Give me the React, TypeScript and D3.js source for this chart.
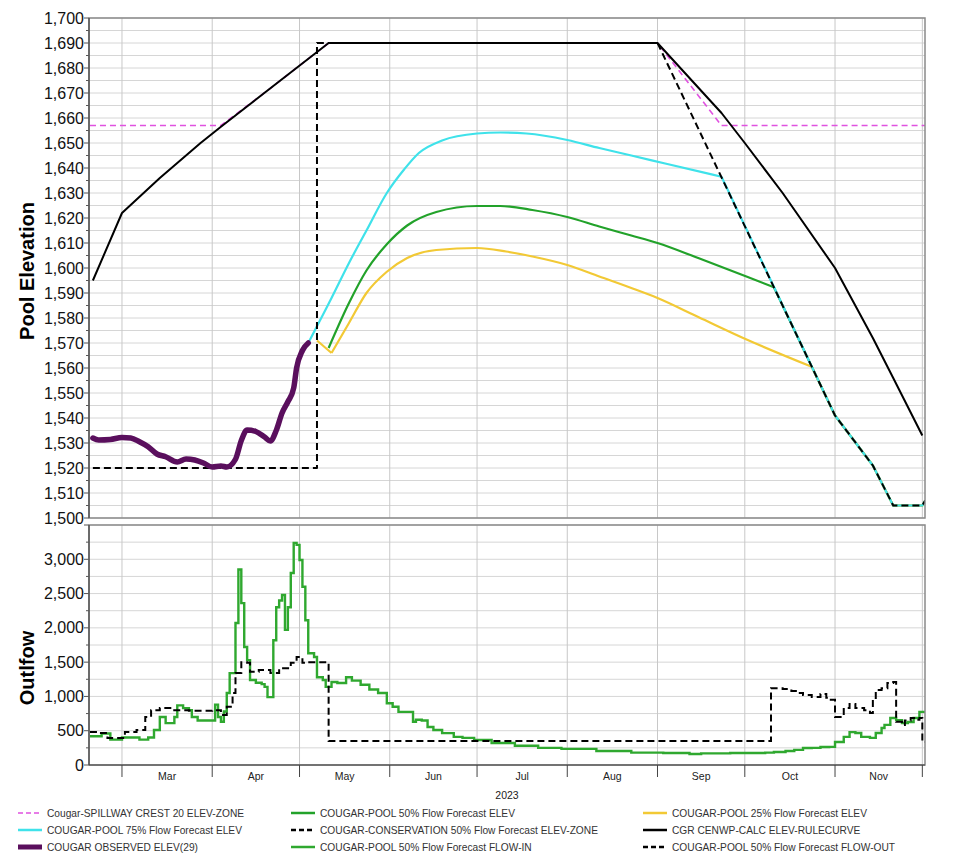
import React from 'react';
import * as d3 from 'd3';

type Pt = [string, number];
const parse = d3.timeParse('%Y-%m-%d') as (s: string) => Date;

// ---------------- DATA ----------------
const spillwayCrest: Pt[] = [
  ['2023-02-18', 1657], ['2023-04-04', 1657], ['2023-04-20', 1671], ['2023-05-11', 1690],
  ['2023-09-01', 1690], ['2023-09-23', 1657], ['2023-12-02', 1657],
];

const ruleCurve: Pt[] = [
  ['2023-02-19', 1595], ['2023-03-01', 1622], ['2023-03-14', 1636], ['2023-03-28', 1650],
  ['2023-04-04', 1656.5], ['2023-04-20', 1671], ['2023-05-11', 1690], ['2023-09-01', 1690],
  ['2023-09-23', 1662], ['2023-10-01', 1650], ['2023-10-14', 1630], ['2023-11-01', 1600],
  ['2023-11-14', 1572], ['2023-11-21', 1556], ['2023-12-01', 1533],
];

const conservation: Pt[] = [
  ['2023-02-19', 1520], ['2023-05-07', 1520], ['2023-05-07', 1690], ['2023-09-01', 1690],
  ['2023-11-01', 1541], ['2023-11-14', 1521], ['2023-11-21', 1505], ['2023-12-01', 1505],
  ['2023-12-02', 1507],
];

const pool75: Pt[] = [
  ['2023-05-04', 1570], ['2023-05-12', 1588], ['2023-05-18', 1602], ['2023-05-24', 1615],
  ['2023-05-31', 1630], ['2023-06-06', 1639.5], ['2023-06-11', 1646], ['2023-06-19', 1651],
  ['2023-07-01', 1653.8], ['2023-07-09', 1654.2], ['2023-07-18', 1653.8], ['2023-08-01', 1651.2],
  ['2023-08-12', 1648], ['2023-08-23', 1645], ['2023-09-04', 1641.7], ['2023-09-23', 1636.5],
];

const pool50: Pt[] = [
  ['2023-05-11', 1568], ['2023-05-18', 1586], ['2023-05-24', 1599], ['2023-05-31', 1609.5],
  ['2023-06-07', 1617], ['2023-06-17', 1622.4], ['2023-07-01', 1624.8], ['2023-07-09', 1624.8],
  ['2023-07-20', 1623.2], ['2023-08-01', 1620.4], ['2023-08-12', 1616.6], ['2023-08-23', 1613],
  ['2023-09-01', 1610], ['2023-09-15', 1604], ['2023-10-02', 1596.4], ['2023-10-11', 1592.3],
];

const pool25: Pt[] = [
  ['2023-05-07', 1571], ['2023-05-12', 1566], ['2023-05-18', 1578], ['2023-05-24', 1590],
  ['2023-05-31', 1598.5], ['2023-06-07', 1604], ['2023-06-17', 1607.2], ['2023-07-01', 1608],
  ['2023-07-11', 1606.6], ['2023-07-20', 1604.6], ['2023-08-01', 1601.2], ['2023-08-12', 1596.6],
  ['2023-08-23', 1592], ['2023-09-01', 1588], ['2023-09-15', 1580.4], ['2023-10-02', 1571.2],
  ['2023-10-24', 1560.5],
];

const observed: Pt[] = [
  ['2023-02-19', 1532], ['2023-02-21', 1531.2], ['2023-02-25', 1531.4], ['2023-03-01', 1532.2],
  ['2023-03-04', 1532], ['2023-03-07', 1530.5], ['2023-03-10', 1528.5], ['2023-03-13', 1525.6],
  ['2023-03-16', 1524.5], ['2023-03-20', 1522.4], ['2023-03-23', 1523.6], ['2023-03-26', 1523.2],
  ['2023-03-29', 1522], ['2023-04-01', 1520.4], ['2023-04-04', 1520.8], ['2023-04-06', 1520.4],
  ['2023-04-09', 1523.5], ['2023-04-11', 1531], ['2023-04-13', 1535.2], ['2023-04-16', 1534.6],
  ['2023-04-19', 1532.4], ['2023-04-21', 1530.8], ['2023-04-23', 1535], ['2023-04-25', 1542],
  ['2023-04-27', 1546.5], ['2023-04-29', 1552], ['2023-04-30', 1560], ['2023-05-02', 1567],
  ['2023-05-04', 1570],
];

const flowIn: Pt[] = [
  ['2023-02-18', 420], ['2023-02-22', 460], ['2023-02-25', 370], ['2023-03-01', 400],
  ['2023-03-07', 370], ['2023-03-10', 400], ['2023-03-12', 510], ['2023-03-14', 700],
  ['2023-03-16', 610], ['2023-03-19', 700], ['2023-03-20', 870], ['2023-03-22', 830],
  ['2023-03-24', 800], ['2023-03-25', 700], ['2023-03-27', 650], ['2023-04-02', 880],
  ['2023-04-03', 700], ['2023-04-04', 630], ['2023-04-05', 780], ['2023-04-06', 1050],
  ['2023-04-07', 1340], ['2023-04-09', 2070], ['2023-04-10', 2850], ['2023-04-11', 2360],
  ['2023-04-12', 1720], ['2023-04-13', 1530], ['2023-04-14', 1240], ['2023-04-16', 1200],
  ['2023-04-18', 1180], ['2023-04-19', 1140], ['2023-04-20', 990], ['2023-04-22', 1820],
  ['2023-04-23', 2300], ['2023-04-24', 2400], ['2023-04-25', 2480], ['2023-04-26', 1970],
  ['2023-04-27', 2300], ['2023-04-28', 2800], ['2023-04-29', 3240], ['2023-04-30', 3210],
  ['2023-05-01', 2990], ['2023-05-02', 2600], ['2023-05-03', 2110], ['2023-05-04', 1630],
  ['2023-05-06', 1575], ['2023-05-07', 1280], ['2023-05-09', 1240], ['2023-05-10', 1140],
  ['2023-05-12', 1210], ['2023-05-14', 1195], ['2023-05-17', 1280], ['2023-05-19', 1230],
  ['2023-05-22', 1170], ['2023-05-25', 1100], ['2023-05-28', 1050], ['2023-05-31', 900],
  ['2023-06-02', 850], ['2023-06-04', 775], ['2023-06-09', 630], ['2023-06-10', 660],
  ['2023-06-12', 650], ['2023-06-14', 555], ['2023-06-16', 510], ['2023-06-19', 465],
  ['2023-06-23', 410], ['2023-06-26', 395], ['2023-06-30', 365], ['2023-07-06', 320],
  ['2023-07-14', 280], ['2023-07-22', 250], ['2023-07-30', 235], ['2023-08-11', 205],
  ['2023-08-23', 180], ['2023-09-03', 175], ['2023-09-12', 160], ['2023-09-16', 170],
  ['2023-09-26', 175], ['2023-10-08', 180], ['2023-10-11', 190], ['2023-10-15', 205],
  ['2023-10-18', 220], ['2023-10-21', 248], ['2023-10-24', 250], ['2023-10-27', 263],
  ['2023-10-30', 265], ['2023-11-01', 335], ['2023-11-04', 410], ['2023-11-06', 480],
  ['2023-11-08', 467], ['2023-11-10', 410], ['2023-11-13', 395], ['2023-11-15', 467],
  ['2023-11-17', 540], ['2023-11-18', 585], ['2023-11-20', 685], ['2023-11-22', 655],
  ['2023-11-24', 612], ['2023-11-26', 627], ['2023-11-28', 685], ['2023-11-30', 775],
  ['2023-12-02', 775],
];

const flowOut: Pt[] = [
  ['2023-02-18', 480], ['2023-02-21', 465], ['2023-02-24', 395], ['2023-03-02', 480],
  ['2023-03-06', 510], ['2023-03-09', 700], ['2023-03-11', 800], ['2023-03-14', 830],
  ['2023-03-18', 800], ['2023-03-24', 790], ['2023-04-01', 800], ['2023-04-04', 730],
  ['2023-04-06', 850], ['2023-04-08', 1050], ['2023-04-09', 1340], ['2023-04-11', 1500],
  ['2023-04-13', 1490], ['2023-04-14', 1360], ['2023-04-17', 1385], ['2023-04-21', 1340],
  ['2023-04-24', 1410], ['2023-04-28', 1490], ['2023-04-30', 1575], ['2023-05-02', 1490],
  ['2023-05-03', 1500], ['2023-05-11', 350], ['2023-10-10', 1120], ['2023-10-14', 1108],
  ['2023-10-17', 1080], ['2023-10-19', 1050], ['2023-10-21', 1020], ['2023-10-24', 990],
  ['2023-10-27', 1035], ['2023-10-29', 980], ['2023-10-30', 950], ['2023-11-01', 700],
  ['2023-11-04', 830], ['2023-11-06', 890], ['2023-11-08', 830], ['2023-11-11', 800],
  ['2023-11-13', 760], ['2023-11-14', 950], ['2023-11-15', 1095], ['2023-11-17', 1120],
  ['2023-11-19', 1195], ['2023-11-21', 1210], ['2023-11-22', 630], ['2023-11-24', 585],
  ['2023-11-25', 650], ['2023-11-27', 685], ['2023-11-29', 660], ['2023-11-30', 685],
  ['2023-12-01', 335], ['2023-12-02', 335],
];

const monthStarts = [
  '2023-03-01', '2023-04-01', '2023-05-01', '2023-06-01', '2023-07-01', '2023-08-01',
  '2023-09-01', '2023-10-01', '2023-11-01', '2023-12-01',
];
const monthLabels = ['Mar', 'Apr', 'May', 'Jun', 'Jul', 'Aug', 'Sep', 'Oct', 'Nov'];
const elevLabels = d3.range(1500, 1701, 10);
const elevMinor = d3.range(1500, 1701, 5);
const flowLabels = d3.range(0, 3001, 500);
const flowMinor = d3.range(0, 3501, 250);

const C_MAGENTA = '#e052e0';
const C_CYAN = '#3fe2ea';
const C_GREEN = '#22a22a';
const C_YELLOW = '#f2c935';
const C_PURPLE = '#5a0f5d';
const C_INFLOW = '#2fa82f';

type LegendItem = { label: string; color: string; width: number; dash?: string };
const legendRows: LegendItem[][] = [
  [
    { label: 'Cougar-SPILLWAY CREST 20 ELEV-ZONE', color: C_MAGENTA, width: 1.5, dash: '5,3' },
    { label: 'COUGAR-POOL 50% Flow Forecast ELEV', color: C_GREEN, width: 2.5 },
    { label: 'COUGAR-POOL 25% Flow Forecast ELEV', color: C_YELLOW, width: 2.5 },
  ],
  [
    { label: 'COUGAR-POOL 75% Flow Forecast ELEV', color: C_CYAN, width: 2.5 },
    { label: 'COUGAR-CONSERVATION 50% Flow Forecast ELEV-ZONE', color: '#000', width: 2.5, dash: '5,3' },
    { label: 'CGR CENWP-CALC ELEV-RULECURVE', color: '#000', width: 2.5 },
  ],
  [
    { label: 'COUGAR OBSERVED ELEV(29)', color: C_PURPLE, width: 5 },
    { label: 'COUGAR-POOL 50% Flow Forecast FLOW-IN', color: C_INFLOW, width: 2.5 },
    { label: 'COUGAR-POOL 50% Flow Forecast FLOW-OUT', color: '#000', width: 2.5, dash: '5,3' },
  ],
];

// ---------------- LAYOUT ----------------
const L = 89, R = 925;
const T1 = 18, B1 = 518;
const T2 = 525, B2 = 765;
const FONT = 'Liberation Sans, Arial, sans-serif';

const x = d3.scaleTime()
  .domain([new Date(2023, 1, 17, 16), new Date(2023, 11, 1, 22)])
  .range([L, R]);
const yE = d3.scaleLinear().domain([1500, 1700]).range([B1, T1]);
const yF = d3.scaleLinear().domain([0, 3500]).range([B2, T2]);

const lineE = (curve: d3.CurveFactory) =>
  d3.line<Pt>().x(d => x(parse(d[0]))).y(d => yE(d[1])).curve(curve);
const lineF = d3.line<Pt>().x(d => x(parse(d[0]))).y(d => yF(d[1])).curve(d3.curveStepAfter);

function followConservation(series: Pt[]): Pt[] {
  const last = series[series.length - 1];
  const t = parse(last[0]).getTime();
  return [last, ...conservation.filter(p => parse(p[0]).getTime() > t)];
}

export default function App() {
  const linear = lineE(d3.curveLinear);
  const smooth = lineE(d3.curveMonotoneX);
  const colX = [18, 291, 643];
  const rowY = [813, 830, 847];

  return (
    <svg width={960} height={860} style={{ position: 'absolute', left: 0, top: 0, background: '#fff' }}
      fontFamily={FONT}>
      <defs>
        <clipPath id="clipTop"><rect x={L} y={T1} width={R - L} height={B1 - T1} /></clipPath>
        <clipPath id="clipBot"><rect x={L} y={T2} width={R - L} height={B2 - T2} /></clipPath>
      </defs>

      {/* ---------- TOP PANEL ---------- */}
      <g>
        {elevMinor.map(v => (
          <line key={'eg' + v} x1={L} x2={R} y1={yE(v)} y2={yE(v)} stroke="#d6d6d6" strokeWidth={1} />
        ))}
        {monthStarts.map(m => (
          <line key={'ev' + m} x1={x(parse(m))} x2={x(parse(m))} y1={T1} y2={B1} stroke="#c8c8c8" strokeWidth={1} />
        ))}
        {elevMinor.map(v => (
          <line key={'et' + v} x1={L - (v % 10 === 0 ? 5 : 3)} x2={L} y1={yE(v)} y2={yE(v)} stroke="#555" strokeWidth={1} />
        ))}
        {elevLabels.map(v => (
          <text key={'el' + v} x={84} y={yE(v)} dy="0.35em" textAnchor="end" fontSize={16} fill="#111">
            {d3.format(',')(v)}
          </text>
        ))}
        <g clipPath="url(#clipTop)" fill="none" strokeLinejoin="round">
          <path d={linear(spillwayCrest) || ''} stroke={C_MAGENTA} strokeWidth={1.6} strokeDasharray="6,4" />
          {/* forecasts */}
          <path d={linear(followConservation(pool50)) || ''} stroke={C_GREEN} strokeWidth={2.2} />
          <path d={smooth(pool50) || ''} stroke={C_GREEN} strokeWidth={2.2} />
          <path d={linear(followConservation(pool25)) || ''} stroke={C_YELLOW} strokeWidth={2.2} />
          <path d={linear(pool25.slice(0, 2)) || ''} stroke={C_YELLOW} strokeWidth={2.2} />
          <path d={smooth(pool25.slice(1)) || ''} stroke={C_YELLOW} strokeWidth={2.2} />
          <path d={linear(followConservation(pool75)) || ''} stroke={C_CYAN} strokeWidth={2.2} />
          <path d={smooth(pool75) || ''} stroke={C_CYAN} strokeWidth={2.2} />
          <path d={linear(conservation) || ''} stroke="#000" strokeWidth={2} strokeDasharray="7,4" />
          <path d={linear(ruleCurve) || ''} stroke="#000" strokeWidth={2} />
          <path d={smooth(observed) || ''} stroke={C_PURPLE} strokeWidth={5.5} strokeLinecap="round" />
        </g>
        <rect x={L} y={T1} width={R - L} height={B1 - T1} fill="none" stroke="#8a8a8a" strokeWidth={1.5} />
        <line x1={L} x2={L} y1={T1} y2={B1} stroke="#444" strokeWidth={1.2} />
        <text transform={`translate(27,271) rotate(-90)`} textAnchor="middle" dy="0.35em"
          fontSize={20} fontWeight="bold" fill="#000">Pool Elevation</text>
      </g>

      {/* ---------- BOTTOM PANEL ---------- */}
      <g>
        {flowMinor.map(v => (
          <line key={'fg' + v} x1={L} x2={R} y1={yF(v)} y2={yF(v)} stroke="#d6d6d6" strokeWidth={1} />
        ))}
        {monthStarts.map(m => (
          <line key={'fv' + m} x1={x(parse(m))} x2={x(parse(m))} y1={T2} y2={B2} stroke="#c8c8c8" strokeWidth={1} />
        ))}
        {flowMinor.map(v => (
          <line key={'ft' + v} x1={L - (v % 500 === 0 ? 5 : 3)} x2={L} y1={yF(v)} y2={yF(v)} stroke="#555" strokeWidth={1} />
        ))}
        {flowLabels.map(v => (
          <text key={'fl' + v} x={84} y={yF(v)} dy="0.35em" textAnchor="end" fontSize={16} fill="#111">
            {d3.format(',')(v)}
          </text>
        ))}
        <g clipPath="url(#clipBot)" fill="none">
          <path d={lineF(flowIn) || ''} stroke={C_INFLOW} strokeWidth={2.4} />
          <path d={lineF(flowOut) || ''} stroke="#000" strokeWidth={2} strokeDasharray="7,4" />
        </g>
        <rect x={L} y={T2} width={R - L} height={B2 - T2} fill="none" stroke="#8a8a8a" strokeWidth={1.5} />
        <line x1={L} x2={L} y1={T2} y2={B2} stroke="#444" strokeWidth={1.2} />
        <line x1={L} x2={R} y1={B2} y2={B2} stroke="#444" strokeWidth={1.2} />
        <text transform={`translate(27,668) rotate(-90)`} textAnchor="middle" dy="0.35em"
          fontSize={20} fontWeight="bold" fill="#000">Outlfow</text>
        {/* x axis */}
        {monthStarts.map(m => (
          <line key={'xt' + m} x1={x(parse(m))} x2={x(parse(m))} y1={B2} y2={B2 + 12} stroke="#444" strokeWidth={1} />
        ))}
        {monthLabels.map((lab, i) => {
          const a = x(parse(monthStarts[i]));
          const b = x(parse(monthStarts[i + 1]));
          return (
            <text key={'xl' + lab} x={(a + b) / 2} y={780} textAnchor="middle" fontSize={10.5} fill="#222">{lab}</text>
          );
        })}
        <text x={(L + R) / 2} y={799} textAnchor="middle" fontSize={10.5} fill="#222">2023</text>
      </g>

      {/* ---------- LEGEND ---------- */}
      <g>
        {legendRows.map((row, ri) =>
          row.map((it, ci) => (
            <g key={`lg${ri}-${ci}`}>
              <line x1={colX[ci]} x2={colX[ci] + 24} y1={rowY[ri]} y2={rowY[ri]} stroke={it.color}
                strokeWidth={it.width} strokeDasharray={it.dash} />
              <text x={colX[ci] + 29} y={rowY[ri]} dy="0.35em" fontSize={10.2} fill="#333">{it.label}</text>
            </g>
          ))
        )}
      </g>
    </svg>
  );
}
